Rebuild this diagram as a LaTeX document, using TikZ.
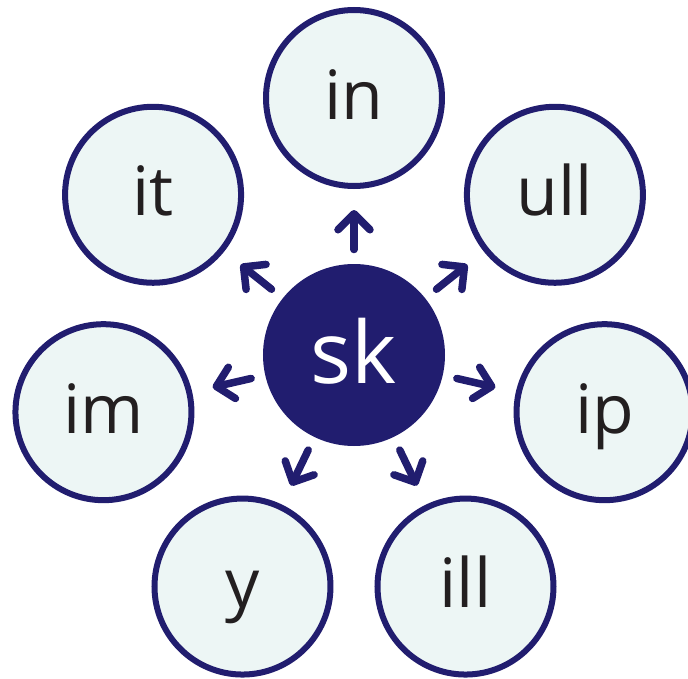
\documentclass[tikz,border=0pt]{standalone}
\usepackage{fontspec}
\setmainfont{Open Sans}
\usetikzlibrary{
  arrows.meta,
  positioning,
  }
\definecolor{navy}{RGB}{33,29,111}
\definecolor{pale}{RGB}{237,246,245}
\definecolor{ink}{RGB}{35,31,32}
\tikzset{
  hub/.style={circle, fill=navy, text=white, minimum size=182pt, inner sep=0pt, outer sep=0pt,
    font=\fontsize{86}{90}\selectfont, text height=64pt, text depth=8pt},
  leaf/.style={circle, draw=navy, line width=6pt, fill=pale, text=ink, minimum size=176pt, inner sep=0pt,
    font=\fontsize{68}{72}\selectfont, text height=50pt, text depth=8pt},
  spoke/.style={draw=navy, line width=7.5pt, line cap=round,
    -{Straight Barb[round, length=16pt, width=32pt]}, shorten <=14.5pt, shorten >=21pt},
  }
\begin{document}
\begin{tikzpicture}[x=1pt, y=1pt]
                \useasboundingbox (-354,-323) rectangle (334,355);
                \node[hub] (n0) at (0,0) {sk};
                \foreach \name [count=\i] in {in, ull, ip, ill, y, im, it}{
                    \node[leaf] (n\i) at ({90-(\i-1)*360/7}:257pt) {\name};
                    \draw[spoke] (n0) -- (n\i);
                }
            \end{tikzpicture}
\end{document}
